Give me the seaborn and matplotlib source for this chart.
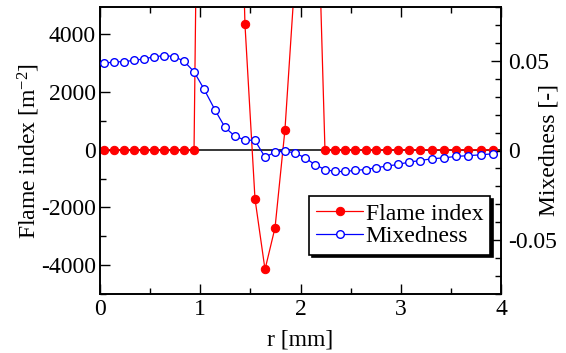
import matplotlib
matplotlib.use("Agg")
import matplotlib.pyplot as plt
import seaborn as sns
from matplotlib.ticker import MultipleLocator, FuncFormatter

# ---- data ----
r_mm = [0.040, 0.140, 0.239, 0.339, 0.439, 0.539, 0.638, 0.738, 0.838, 0.938,
        1.037, 1.147, 1.247, 1.347, 1.446, 1.546, 1.646, 1.746, 1.845, 1.945,
        2.045, 2.145, 2.244, 2.344, 2.444, 2.544, 2.650, 2.753, 2.860, 2.970,
        3.079, 3.192, 3.312, 3.431, 3.548, 3.668, 3.800, 3.923]

flame_index = [0, 0, 0, 0, 0, 0, 0, 0, 0, 0,
               30000, 40000, 35000, 17000, 4350, -1700, -4150, -2700, 700, 6000,
               10000, 12000, 0, 0, 0, 0, 0, 0, 0, 0,
               0, 0, 0, 0, 0, 0, 0, 0]

mixedness = [0.0487, 0.0493, 0.0496, 0.0502, 0.0511, 0.0522, 0.0529, 0.0524, 0.0498, 0.0439,
             0.0343, 0.0226, 0.0129, 0.0079, 0.0059, 0.0056, -0.0037, -0.0009, -0.0004, -0.0013,
             -0.0041, -0.0079, -0.0106, -0.0117, -0.0117, -0.0111, -0.0106, -0.0096, -0.0087, -0.0078,
             -0.0065, -0.0056, -0.0046, -0.0041, -0.0033, -0.0029, -0.0024, -0.0018]

flame_label = "Flame index"
mix_label = "Mixedness"
xlabel = "r [mm]"
ylabel_left = "Flame index [$\\mathrm{m}^{\\mathrm{-2}}$]"
ylabel_right = "Mixedness [-]"

# ---- style ----
sns.set_style("ticks", rc={"axes.edgecolor": "black", "xtick.color": "black",
                           "ytick.color": "black", "text.color": "black",
                           "axes.labelcolor": "black"})
plt.rcParams["font.family"] = ["Liberation Serif", "DejaVu Serif"]
plt.rcParams["mathtext.fontset"] = "custom"
plt.rcParams["mathtext.rm"] = "Liberation Serif"
plt.rcParams["mathtext.it"] = "Liberation Serif:italic"
plt.rcParams["font.size"] = 17
plt.rcParams["axes.unicode_minus"] = False

fig, ax = plt.subplots(figsize=(5.66, 3.53), dpi=100)
fig.subplots_adjust(left=100/566, right=501/566, bottom=(353-294)/353, top=(353-7)/353)
ax2 = ax.twinx()

ax.axhline(0, color="black", lw=1.1, zorder=1)

sns.lineplot(x=r_mm, y=flame_index, ax=ax, color="red", marker="o", markersize=6,
             markeredgecolor="red", markerfacecolor="red", lw=0.9,
             label=flame_label, legend=False, sort=False, estimator=None, zorder=3)
sns.lineplot(x=r_mm, y=mixedness, ax=ax2, color="blue", marker="o", markersize=5.5,
             markeredgecolor="blue", markerfacecolor="white", markeredgewidth=1.0, lw=0.9,
             label=mix_label, legend=False, sort=False, estimator=None, zorder=3)

ax.set_xlim(0, 4)
ax.set_ylim(-5000, 4950)
ax2.set_ylim(-0.08, 0.08)

ax.xaxis.set_major_locator(MultipleLocator(1))
ax.xaxis.set_minor_locator(MultipleLocator(0.5))
ax.yaxis.set_major_locator(MultipleLocator(2000))
ax.yaxis.set_minor_locator(MultipleLocator(1000))
ax2.yaxis.set_major_locator(MultipleLocator(0.05))
ax2.yaxis.set_minor_locator(MultipleLocator(0.01))
ax2.yaxis.set_major_formatter(FuncFormatter(lambda v, p: "0" if abs(v) < 1e-9 else "%g" % v))

ax.tick_params(axis="both", which="both", direction="in", top=True, right=False,
               labelsize=17, width=1)
ax.tick_params(which="major", length=7)
ax.tick_params(which="minor", length=4)
ax.tick_params(axis="y", pad=3)
ax2.tick_params(axis="y", which="both", direction="in", right=True, left=False,
                labelsize=17, width=1, pad=5)
ax2.tick_params(which="major", length=7)
ax2.tick_params(which="minor", length=4)

for a in (ax, ax2):
    for s in a.spines.values():
        s.set_linewidth(1.2)
        s.set_color("black")

ax.set_xlabel(xlabel, fontsize=17)
ax.set_ylabel(ylabel_left, fontsize=17)
ax2.set_ylabel(ylabel_right, fontsize=17)
ax.xaxis.set_label_coords(0.5, -0.125)
ax.yaxis.set_label_coords(-0.145, 0.5)
ax2.yaxis.set_label_coords(1.093, 0.5)

h1, l1 = ax.get_legend_handles_labels()
h2, l2 = ax2.get_legend_handles_labels()
leg = ax2.legend(h1 + h2, l1 + l2, loc="upper left", bbox_to_anchor=(0.521, 0.341),
                 borderaxespad=0, frameon=True, fancybox=False,
                 shadow={"facecolor": "black", "edgecolor": "black", "alpha": 1},
                 handlelength=2.0, handletextpad=0.1, borderpad=0.3,
                 labelspacing=0.05, fontsize=17, framealpha=1)
leg.get_frame().set_edgecolor("black")
leg.get_frame().set_linewidth(1.2)

fig.savefig("out.png", dpi=100)
